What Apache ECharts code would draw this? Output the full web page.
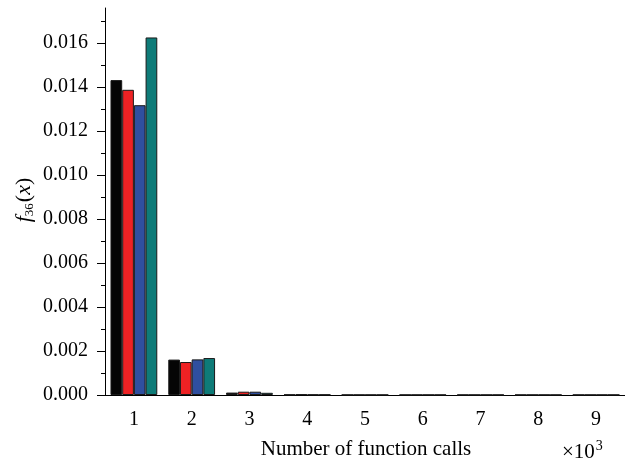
<!DOCTYPE html>
<html>
<head>
<meta charset="utf-8">
<script src="https://cdn.jsdelivr.net/npm/echarts@6/dist/echarts.min.js"></script>
<style>html,body{margin:0;padding:0;background:#fff;}#c{width:625px;height:461px;}</style>
</head>
<body>
<div id="c"></div>
<script>
var categories = ['1','2','3','4','5','6','7','8','9'];
var seriesA = [0.01432, 0.00161, 0.00011, 0.00002, 0.00001, 0.00001, 0.00001, 0.00001, 0.00001];
var seriesB = [0.01388, 0.00150, 0.00015, 0.00003, 0.00001, 0.00001, 0.00001, 0.00001, 0.00001];
var seriesC = [0.01318, 0.00162, 0.00015, 0.00002, 0.00001, 0.00001, 0.00001, 0.00001, 0.00001];
var seriesD = [0.01626, 0.00168, 0.00010, 0.00002, 0.00001, 0.00001, 0.00001, 0.00001, 0.00001];
var yMajor = [0, 0.002, 0.004, 0.006, 0.008, 0.010, 0.012, 0.014, 0.016];
var yMinor = [0.001, 0.003, 0.005, 0.007, 0.009, 0.011, 0.013, 0.015, 0.017];

var FONT = 'Liberation Serif';
var chart = echarts.init(document.getElementById('c'), null, {renderer: 'canvas'});
function bar(name, data, color) {
  return {
    name: name, type: 'bar', data: data, xAxisIndex: 0, yAxisIndex: 0,
    barGap: '0%', barCategoryGap: '19%',
    itemStyle: {color: color, borderColor: '#1a1a1a', borderWidth: 1},
    animation: false
  };
}
chart.setOption({
  animation: false,
  grid: {left: 105, top: 8, right: -2, bottom: 66, containLabel: false},
  xAxis: [{
    type: 'category', data: categories, boundaryGap: true,
    axisLine: {lineStyle: {color: '#000', width: 1}},
    axisTick: {alignWithLabel: true, length: 8, lineStyle: {color: '#000'}},
    axisLabel: {color: '#000', fontFamily: FONT, fontSize: 20, margin: 15}
  }, {
    type: 'category', data: categories, boundaryGap: true, position: 'bottom',
    axisLine: {show: false},
    axisTick: {length: 4, lineStyle: {color: '#000'}},
    axisLabel: {show: false}
  }],
  yAxis: [{
    type: 'value', min: 0, max: 0.0176,
    splitLine: {show: false},
    axisLine: {show: true, lineStyle: {color: '#000', width: 1}},
    axisTick: {show: true, length: 8, customValues: yMajor, lineStyle: {color: '#000'}},
    axisLabel: {color: '#000', fontFamily: FONT, fontSize: 20, margin: 17, customValues: yMajor,
      formatter: function (v) { return v.toFixed(3); }}
  }, {
    type: 'value', min: 0, max: 0.0176, position: 'left',
    splitLine: {show: false},
    axisLine: {show: false},
    axisTick: {show: true, length: 4, customValues: yMinor, lineStyle: {color: '#000'}},
    axisLabel: {show: false}
  }],
  series: [
    bar('A', seriesA, '#050505'),
    bar('B', seriesB, '#ee2224'),
    bar('C', seriesC, '#2f4f9f'),
    bar('D', seriesD, '#0e7b78')
  ],
  graphic: [{
    type: 'text', x: 366, y: 449,
    style: {text: 'Number of function calls', fontFamily: FONT, fontSize: 21, fill: '#000',
      textAlign: 'center', textVerticalAlign: 'middle'}
  }, {
    type: 'text', x: 562, y: 452,
    style: {text: '×10{sup|3}', fontFamily: FONT, fontSize: 21, fill: '#000',
      textAlign: 'left', textVerticalAlign: 'middle',
      rich: {sup: {fontFamily: FONT, fontSize: 14, padding: [0, 0, 12, 1], fill: '#000'}}}
  }, {
    type: 'text', x: 24, y: 200, rotation: Math.PI / 2,
    style: {text: '{i|f}{s|36}{n|(}{i|x}{n|)}', fontFamily: FONT, fontSize: 22, fill: '#000',
      textAlign: 'center', textVerticalAlign: 'middle',
      rich: {
        i: {fontFamily: FONT, fontSize: 22, fontStyle: 'italic', fill: '#000'},
        s: {fontFamily: FONT, fontSize: 13, padding: [12, 1, 0, 0], fill: '#000'},
        n: {fontFamily: FONT, fontSize: 22, fill: '#000'}
      }}
  }]
});
</script>
</body>
</html>
